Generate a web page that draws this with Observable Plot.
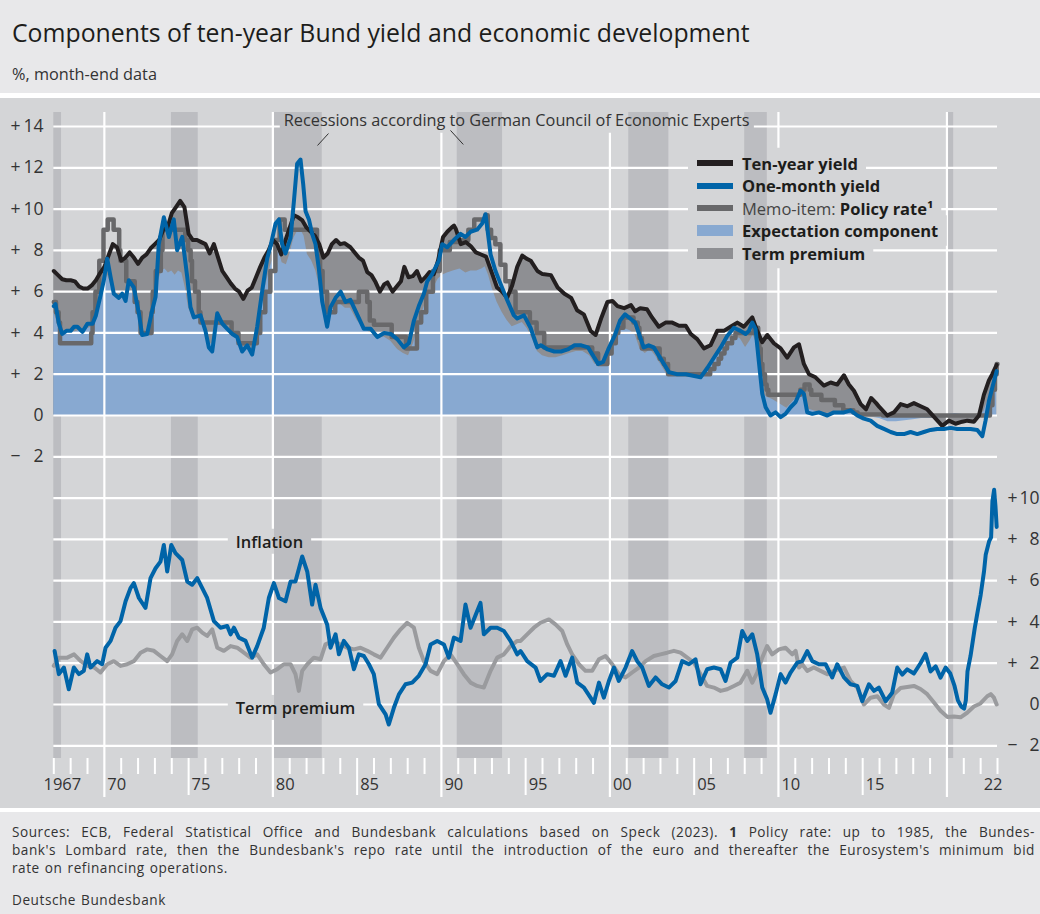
<!DOCTYPE html>
<html>
<head>
<meta charset="utf-8">
<script src="https://cdn.jsdelivr.net/npm/d3@7"></script>
<script src="https://cdn.jsdelivr.net/npm/@observablehq/plot@0.6"></script>
<style>
  body { margin: 0; background: #ffffff; font-family: 'Open Sans', sans-serif; }
  #page { width: 1040px; }
  #header { height: 93px; background: #e8e8ea; position: relative; }
  #title { position: absolute; left: 12px; top: 15px; font-size: 24.8px; color: #1d1d1b; white-space: nowrap; }
  #subtitle { position: absolute; left: 12px; top: 63px; font-size: 16.3px; color: #333; white-space: nowrap; }
  #gap1 { height: 5px; }
  #chart { position: relative; height: 710px; background: #d4d5d7; }
  #chart svg { display: block; }
  #gap2 { height: 4px; }
  #footer { background: #e8e8ea; height: 102px; box-sizing: border-box; padding: 11px 5px 0 12px; font-size: 13.6px; letter-spacing: 0.55px; word-spacing: 1px; line-height: 18px; color: #333; }
  #footer .j { text-align: justify; text-align-last: justify; width: 1023px; }
  #footer .org { margin-top: 14px; }
  #legend { position: absolute; left: 697px; top: 53.75px; }
  #legend .row { display: flex; align-items: center; height: 22.5px; white-space: nowrap; }
  #legend .sw { width: 36px; flex: none; }
  #legend .tx { margin-left: 9px; font-size: 16.5px; color: #1d1d1b; }
</style>
</head>
<body>
<div id="page">
  <div id="header">
    <div id="title">Components of ten-year Bund yield and economic development</div>
    <div id="subtitle">%, month-end data</div>
  </div>
  <div id="gap1"></div>
  <div id="chart"></div>
  <div id="gap2"></div>
  <div id="footer">
    <div class="j">Sources: ECB, Federal Statistical Office and Bundesbank calculations based on Speck (2023). <b>1</b> Policy rate: up to 1985, the Bundes-</div>
    <div class="j">bank's Lombard rate, then the Bundesbank's repo rate until the introduction of the euro and thereafter the Eurosystem's minimum bid</div>
    <div>rate on refinancing operations.</div>
    <div class="org">Deutsche Bundesbank</div>
  </div>
</div>
<script>
// ---------------- DATA ----------------
const tenYear = [[1967.0,7.0],[1967.25,6.8],[1967.5,6.6],[1967.75,6.55],[1968.0,6.55],[1968.25,6.5],[1968.5,6.25],[1968.75,6.15],[1969.0,6.15],[1969.25,6.3],[1969.5,6.55],[1969.75,6.9],[1970.0,7.2],[1970.25,7.75],[1970.5,8.3],[1970.75,8.15],[1971.0,7.5],[1971.25,7.65],[1971.5,7.9],[1971.75,7.65],[1972.0,7.35],[1972.25,7.65],[1972.5,7.8],[1972.75,8.1],[1973.0,8.3],[1973.25,8.5],[1973.5,9.0],[1973.75,9.1],[1974.0,9.8],[1974.25,10.1],[1974.5,10.4],[1974.75,10.1],[1975.0,8.8],[1975.25,8.5],[1975.5,8.5],[1975.75,8.4],[1976.0,8.3],[1976.25,7.85],[1976.5,8.3],[1976.75,7.65],[1977.0,7.0],[1977.25,6.7],[1977.5,6.4],[1977.75,6.15],[1978.0,6.0],[1978.25,5.65],[1978.5,6.05],[1978.75,6.2],[1979.0,6.7],[1979.25,7.2],[1979.5,7.65],[1979.75,8.0],[1980.0,8.5],[1980.25,8.3],[1980.5,7.8],[1980.75,8.5],[1981.0,9.1],[1981.25,9.7],[1981.5,9.6],[1981.75,9.45],[1982.0,9.1],[1982.25,8.9],[1982.5,8.7],[1982.75,8.3],[1983.0,7.65],[1983.25,7.85],[1983.5,8.3],[1983.75,8.5],[1984.0,8.3],[1984.25,8.35],[1984.6,8.15],[1985.1,7.65],[1985.35,7.5],[1985.6,6.95],[1985.85,6.8],[1986.1,6.45],[1986.35,6.0],[1986.6,6.35],[1986.8,6.45],[1987.1,6.0],[1987.3,6.2],[1987.6,6.5],[1987.8,7.2],[1988.05,6.7],[1988.3,6.75],[1988.55,7.0],[1988.8,6.5],[1989.05,6.7],[1989.3,6.95],[1989.55,6.85],[1989.8,7.5],[1990.1,8.65],[1990.35,8.9],[1990.6,9.1],[1990.75,9.2],[1990.85,9.05],[1991.15,8.3],[1991.45,8.4],[1991.75,8.2],[1992.05,7.9],[1992.35,7.8],[1992.65,7.7],[1993.0,6.9],[1993.3,6.2],[1993.6,6.0],[1993.9,5.7],[1994.2,6.3],[1994.5,7.2],[1994.8,7.75],[1995.05,7.6],[1995.3,7.5],[1995.7,7.0],[1996.0,6.85],[1996.5,6.8],[1996.9,6.2],[1997.3,5.9],[1997.7,5.7],[1998.05,5.1],[1998.45,4.9],[1998.85,4.1],[1999.15,3.9],[1999.5,4.75],[1999.85,5.5],[2000.15,5.55],[2000.45,5.3],[2000.85,5.2],[2001.25,5.35],[2001.5,5.05],[2001.8,5.2],[2002.2,5.15],[2002.5,4.75],[2002.9,4.3],[2003.3,4.5],[2003.7,4.5],[2004.1,4.35],[2004.5,4.35],[2004.8,3.95],[2005.18,3.7],[2005.58,3.25],[2005.97,3.4],[2006.37,4.1],[2006.76,4.1],[2007.16,4.3],[2007.56,4.5],[2007.95,4.3],[2008.45,4.75],[2008.74,4.1],[2009.04,3.55],[2009.34,3.9],[2009.73,3.5],[2010.13,3.25],[2010.52,2.8],[2010.92,3.3],[2011.22,3.45],[2011.51,2.5],[2011.81,2.0],[2012.2,1.85],[2012.7,1.45],[2013.1,1.6],[2013.49,1.5],[2013.89,1.95],[2014.18,1.5],[2014.48,1.2],[2014.88,0.55],[2015.2,0.3],[2015.5,0.85],[2015.8,0.6],[2016.0,0.4],[2016.46,0.0],[2016.85,0.15],[2017.25,0.55],[2017.64,0.45],[2018.04,0.6],[2018.44,0.45],[2018.83,0.3],[2019.33,-0.15],[2019.72,-0.5],[2020.12,-0.25],[2020.51,-0.4],[2020.91,-0.3],[2021.21,-0.25],[2021.6,-0.3],[2021.9,0.0],[2022.19,1.0],[2022.49,1.7],[2022.69,2.0],[2022.95,2.45]];

const oneMonth = [[1967.0,5.3],[1967.1,5.4],[1967.3,4.45],[1967.5,3.95],[1967.75,4.1],[1968.0,4.1],[1968.2,4.3],[1968.4,4.3],[1968.7,4.05],[1969.0,4.45],[1969.3,4.45],[1969.5,4.85],[1969.77,5.8],[1969.97,6.55],[1970.17,7.6],[1970.37,6.7],[1970.56,5.9],[1970.86,5.7],[1971.06,5.9],[1971.26,5.55],[1971.45,6.55],[1971.75,6.2],[1972.05,4.95],[1972.24,3.9],[1972.54,3.95],[1972.84,5.1],[1973.04,5.75],[1973.23,8.3],[1973.53,9.6],[1973.83,8.65],[1974.12,9.5],[1974.32,8.0],[1974.62,8.65],[1974.92,6.7],[1975.11,5.25],[1975.31,4.75],[1975.71,4.85],[1976.0,4.1],[1976.2,3.3],[1976.4,3.1],[1976.7,4.95],[1977.0,4.45],[1977.29,4.2],[1977.59,3.95],[1977.88,3.8],[1978.18,3.1],[1978.48,3.4],[1978.77,2.95],[1979.07,4.3],[1979.37,6.05],[1979.66,7.6],[1979.86,8.2],[1980.16,9.3],[1980.36,9.5],[1980.55,8.3],[1980.75,7.85],[1981.05,8.6],[1981.25,10.4],[1981.44,12.2],[1981.64,12.4],[1981.8,11.2],[1981.94,9.9],[1982.14,9.5],[1982.33,8.8],[1982.53,8.3],[1982.73,7.1],[1982.93,5.5],[1983.22,4.3],[1983.42,5.25],[1983.72,5.7],[1984.02,6.0],[1984.31,5.5],[1984.6,5.6],[1985.0,4.9],[1985.4,4.2],[1985.8,4.2],[1986.2,3.8],[1986.6,4.0],[1987.0,3.95],[1987.38,3.7],[1987.77,3.3],[1988.07,3.5],[1988.37,4.6],[1988.66,5.3],[1988.96,5.9],[1989.16,6.5],[1989.45,6.85],[1989.85,7.5],[1990.05,8.3],[1990.34,8.15],[1990.74,8.5],[1991.14,8.8],[1991.43,8.65],[1991.73,8.9],[1992.12,9.0],[1992.42,9.3],[1992.62,9.75],[1992.72,9.1],[1992.92,7.8],[1993.21,7.0],[1993.5,6.4],[1993.9,5.6],[1994.3,4.85],[1994.5,4.7],[1994.9,4.85],[1995.29,4.25],[1995.69,3.3],[1995.9,3.4],[1996.3,3.2],[1996.7,3.1],[1997.1,3.1],[1997.5,3.2],[1997.9,3.4],[1998.3,3.4],[1998.7,3.3],[1999.0,2.9],[1999.3,2.5],[1999.6,2.6],[1999.9,3.2],[2000.3,3.9],[2000.6,4.6],[2000.9,4.9],[2001.2,4.7],[2001.5,4.5],[2001.75,3.9],[2002.0,3.3],[2002.3,3.4],[2002.6,3.3],[2002.9,2.9],[2003.2,2.5],[2003.5,2.1],[2004.0,2.0],[2004.5,2.0],[2004.79,1.95],[2005.38,1.85],[2005.78,2.3],[2006.17,2.8],[2006.57,3.3],[2006.96,3.85],[2007.36,4.25],[2007.75,4.1],[2008.05,3.95],[2008.25,4.1],[2008.45,4.5],[2008.64,4.2],[2008.84,2.6],[2009.04,1.05],[2009.24,0.4],[2009.53,0.0],[2009.83,0.15],[2010.13,-0.08],[2010.42,0.08],[2010.72,0.4],[2011.02,0.65],[2011.31,1.2],[2011.51,1.05],[2011.71,0.15],[2012.01,0.08],[2012.4,0.15],[2012.9,0.0],[2013.29,0.15],[2013.89,0.15],[2014.28,0.25],[2014.68,0.0],[2015.07,-0.15],[2015.47,-0.25],[2015.86,-0.5],[2016.26,-0.65],[2016.66,-0.8],[2017.05,-0.9],[2017.45,-0.9],[2017.84,-0.8],[2018.24,-0.9],[2018.63,-0.8],[2019.03,-0.7],[2019.42,-0.65],[2019.82,-0.65],[2020.22,-0.6],[2020.61,-0.65],[2021.01,-0.65],[2021.4,-0.65],[2021.8,-0.7],[2022.1,-1.0],[2022.29,-0.25],[2022.49,0.7],[2022.69,1.35],[2022.95,2.15]];

const policyRate = [[1967.0,5.5],[1967.13,5.0],[1967.29,4.5],[1967.37,3.5],[1969.22,4.0],[1969.3,5.0],[1969.47,6.0],[1969.7,7.5],[1969.95,9.0],[1970.2,9.5],[1970.55,9.0],[1970.88,8.0],[1970.95,7.5],[1971.3,6.5],[1971.8,5.5],[1971.97,5.0],[1972.15,4.0],[1972.8,5.0],[1972.87,6.0],[1973.05,7.0],[1973.35,8.0],[1973.45,9.0],[1974.8,8.5],[1974.97,8.0],[1975.12,7.5],[1975.2,6.5],[1975.38,6.0],[1975.6,5.0],[1975.7,4.5],[1977.55,4.0],[1977.96,3.5],[1979.05,4.0],[1979.25,5.0],[1979.55,6.0],[1979.85,7.0],[1980.15,8.5],[1980.4,9.5],[1980.7,9.0],[1982.62,8.0],[1982.8,7.0],[1982.95,6.0],[1983.22,5.0],[1983.7,5.5],[1985.1,6.0],[1985.6,5.5],[1985.75,4.6],[1986.0,4.4],[1987.05,3.8],[1987.9,3.25],[1988.55,4.5],[1988.8,5.0],[1989.1,6.0],[1989.5,7.0],[1989.9,8.0],[1990.5,8.4],[1991.1,8.5],[1991.6,9.0],[1991.95,9.5],[1992.6,9.7],[1992.75,9.0],[1992.95,8.6],[1993.2,8.3],[1993.5,7.3],[1993.8,6.5],[1994.1,6.0],[1994.4,5.0],[1995.25,4.5],[1995.65,4.0],[1996.1,3.3],[1998.95,3.0],[1999.3,2.5],[1999.85,3.0],[2000.1,3.5],[2000.35,4.0],[2000.5,4.25],[2000.8,4.75],[2001.4,4.5],[2001.65,4.25],[2001.75,3.75],[2001.9,3.25],[2002.95,2.75],[2003.2,2.5],[2003.45,2.0],[2005.95,2.25],[2006.2,2.5],[2006.45,2.75],[2006.6,3.0],[2006.8,3.25],[2006.95,3.5],[2007.25,3.75],[2007.45,4.0],[2008.55,4.25],[2008.8,3.75],[2008.87,3.25],[2008.95,2.5],[2009.05,2.0],[2009.2,1.5],[2009.3,1.25],[2009.4,1.0],[2011.3,1.25],[2011.55,1.5],[2011.85,1.25],[2011.95,1.0],[2012.55,0.75],[2013.35,0.5],[2013.85,0.25],[2014.45,0.15],[2014.7,0.05],[2016.2,0.0],[2022.55,0.5],[2022.7,1.25],[2022.85,2.0],[2022.95,2.5],[2023.0,2.5]];

const expectation = [[1967.0,5.0],[1967.25,4.4],[1967.5,4.0],[1968.0,4.0],[1968.5,4.1],[1969.0,4.2],[1969.25,4.3],[1969.5,4.8],[1969.75,5.7],[1970.0,6.4],[1970.2,6.8],[1970.4,6.3],[1970.6,5.8],[1970.9,5.6],[1971.1,5.7],[1971.3,5.5],[1971.5,6.0],[1971.75,5.9],[1972.0,4.8],[1972.25,4.0],[1972.5,4.1],[1972.75,4.9],[1973.0,5.6],[1973.2,6.5],[1973.4,7.0],[1973.6,7.1],[1973.8,6.9],[1974.0,7.0],[1974.2,6.8],[1974.4,7.0],[1974.6,6.9],[1974.8,6.2],[1975.0,5.2],[1975.25,4.7],[1975.5,4.8],[1975.75,4.7],[1976.0,4.2],[1976.2,3.6],[1976.4,3.4],[1976.6,4.3],[1976.8,4.4],[1977.0,4.3],[1977.3,4.1],[1977.6,3.9],[1977.9,3.7],[1978.2,3.3],[1978.5,3.4],[1978.8,3.1],[1979.0,3.8],[1979.3,5.0],[1979.6,6.4],[1979.85,7.2],[1980.1,7.8],[1980.35,8.0],[1980.55,7.4],[1980.8,7.3],[1981.0,7.8],[1981.25,8.6],[1981.45,8.9],[1981.65,9.0],[1981.85,8.7],[1982.05,7.8],[1982.3,7.5],[1982.55,7.0],[1982.75,6.3],[1983.0,5.3],[1983.25,4.6],[1983.45,5.0],[1983.75,5.3],[1984.0,5.4],[1984.3,5.2],[1984.6,5.2],[1985.0,4.6],[1985.4,4.2],[1985.8,4.0],[1986.2,3.7],[1986.6,3.8],[1987.0,3.6],[1987.4,3.2],[1987.75,3.0],[1988.05,2.9],[1988.35,3.5],[1988.65,4.4],[1988.95,5.2],[1989.2,5.8],[1989.5,6.1],[1989.8,6.6],[1990.05,6.8],[1990.35,6.9],[1990.7,7.0],[1991.1,7.1],[1991.45,6.9],[1991.75,7.0],[1992.1,7.0],[1992.4,7.1],[1992.6,7.2],[1992.8,6.8],[1993.0,6.2],[1993.3,5.5],[1993.6,5.0],[1993.9,4.6],[1994.2,4.3],[1994.5,4.4],[1994.8,4.5],[1995.1,4.2],[1995.4,3.7],[1995.7,3.1],[1996.0,2.9],[1996.4,2.8],[1996.8,2.8],[1997.2,2.9],[1997.6,3.0],[1998.0,3.1],[1998.4,3.1],[1998.8,2.9],[1999.1,2.5],[1999.4,2.4],[1999.7,2.7],[2000.0,3.2],[2000.3,3.8],[2000.6,4.2],[2000.9,4.2],[2001.2,4.1],[2001.5,3.9],[2001.8,3.2],[2002.1,3.0],[2002.4,3.2],[2002.7,2.9],[2003.0,2.5],[2003.3,2.1],[2003.6,1.9],[2004.0,1.9],[2004.5,1.9],[2004.8,1.85],[2005.2,1.8],[2005.6,2.0],[2005.9,2.3],[2006.2,2.7],[2006.6,3.1],[2006.95,3.6],[2007.35,3.9],[2007.75,3.7],[2008.05,3.3],[2008.3,3.6],[2008.5,3.9],[2008.65,3.6],[2008.85,2.2],[2009.05,1.1],[2009.3,0.9],[2009.6,0.8],[2010.0,0.6],[2010.5,0.35],[2010.9,0.7],[2011.3,1.0],[2011.55,0.9],[2011.8,0.3],[2012.2,0.2],[2012.8,0.1],[2013.5,0.15],[2014.2,0.2],[2014.8,0.05],[2015.3,-0.05],[2016.0,-0.15],[2016.5,-0.3],[2017.0,-0.3],[2017.5,-0.25],[2018.0,-0.2],[2018.5,-0.15],[2019.0,-0.15],[2019.5,-0.15],[2020.0,0.05],[2020.5,0.1],[2021.0,0.05],[2021.5,-0.1],[2021.9,-0.1],[2022.2,0.2],[2022.5,0.9],[2022.7,1.5],[2022.95,2.2]];

const termPremium = [[1967.0,1.87],[1967.3,2.27],[1967.8,2.27],[1968.2,2.43],[1968.6,2.1],[1969.0,1.87],[1969.4,1.79],[1969.77,1.55],[1970.17,1.95],[1970.56,2.1],[1970.96,1.87],[1971.35,1.95],[1971.75,2.1],[1972.15,2.51],[1972.54,2.67],[1972.94,2.6],[1973.33,2.35],[1973.73,2.1],[1974.02,2.43],[1974.32,3.08],[1974.62,3.4],[1974.92,3.08],[1975.21,3.64],[1975.51,3.72],[1975.81,3.48],[1976.1,3.32],[1976.4,3.64],[1976.7,2.75],[1977.09,2.6],[1977.49,2.83],[1977.88,2.75],[1978.28,2.51],[1978.67,2.27],[1979.07,2.43],[1979.46,1.95],[1979.86,1.55],[1980.26,1.71],[1980.65,1.95],[1981.05,1.95],[1981.34,1.47],[1981.54,0.66],[1981.74,1.63],[1982.04,1.95],[1982.43,2.27],[1982.83,2.19],[1983.12,2.91],[1983.62,3.08],[1984.01,2.91],[1984.41,2.75],[1984.81,2.67],[1985.2,2.75],[1985.6,2.6],[1985.99,2.43],[1986.39,2.27],[1986.78,2.75],[1987.18,3.24],[1987.58,3.64],[1987.97,3.96],[1988.37,3.72],[1988.66,2.75],[1988.96,2.1],[1989.36,1.63],[1989.75,1.47],[1990.15,2.1],[1990.54,2.43],[1990.94,1.95],[1991.33,1.47],[1991.73,1.06],[1992.12,0.9],[1992.52,0.82],[1992.92,1.63],[1993.31,2.27],[1993.71,2.43],[1994.1,2.83],[1994.5,3.08],[1994.7,3.08],[1995.09,3.4],[1995.49,3.72],[1995.88,3.96],[1996.38,4.12],[1996.77,3.88],[1997.17,3.56],[1997.47,2.91],[1997.76,2.43],[1998.16,1.95],[1998.55,1.63],[1998.95,1.63],[1999.35,2.19],[1999.74,2.35],[2000.14,1.95],[2000.53,1.47],[2000.93,1.31],[2001.32,1.55],[2001.72,1.79],[2002.12,2.1],[2002.61,2.35],[2003.0,2.43],[2003.4,2.51],[2003.8,2.6],[2004.19,2.51],[2004.59,2.27],[2004.98,2.03],[2005.38,1.47],[2005.77,0.9],[2006.17,0.82],[2006.57,0.66],[2006.96,0.74],[2007.36,0.9],[2007.75,1.06],[2008.15,1.63],[2008.45,1.06],[2008.74,1.55],[2009.04,2.27],[2009.33,2.83],[2009.63,2.43],[2010.03,2.67],[2010.42,2.75],[2010.82,2.43],[2011.02,2.6],[2011.22,1.79],[2011.41,1.95],[2011.71,1.63],[2012.1,1.79],[2012.5,1.63],[2012.9,1.47],[2013.29,1.63],[2013.89,1.79],[2014.28,1.14],[2014.68,0.82],[2015.07,0.0],[2015.47,0.33],[2015.87,0.4],[2016.26,0.0],[2016.56,-0.16],[2016.85,0.49],[2017.25,0.8],[2017.64,0.85],[2018.04,0.9],[2018.43,0.75],[2018.83,0.5],[2019.23,0.1],[2019.62,-0.3],[2020.02,-0.6],[2020.41,-0.58],[2020.81,-0.62],[2021.2,-0.4],[2021.6,-0.1],[2021.99,0.05],[2022.39,0.4],[2022.6,0.5],[2022.79,0.33],[2022.95,0.0]];

const inflation = [[1967.05,2.59],[1967.3,1.47],[1967.6,1.79],[1967.89,0.74],[1968.19,1.79],[1968.49,1.47],[1968.78,1.63],[1968.98,2.43],[1969.18,1.79],[1969.57,2.1],[1969.87,1.95],[1970.07,2.75],[1970.37,3.08],[1970.66,3.72],[1970.96,4.04],[1971.26,5.0],[1971.55,5.64],[1971.75,5.88],[1972.05,5.16],[1972.44,4.68],[1972.74,6.12],[1973.04,6.6],[1973.33,6.92],[1973.53,7.73],[1973.73,6.44],[1973.97,7.73],[1974.22,7.33],[1974.62,7.0],[1974.92,5.96],[1975.21,5.8],[1975.51,6.12],[1975.81,5.64],[1976.1,5.16],[1976.5,4.04],[1976.89,3.72],[1977.29,3.8],[1977.49,3.4],[1977.69,3.72],[1977.98,3.24],[1978.38,3.08],[1978.77,2.27],[1979.07,2.83],[1979.46,3.72],[1979.76,5.16],[1980.06,5.88],[1980.36,5.16],[1980.75,5.0],[1981.05,5.96],[1981.34,5.96],[1981.74,7.17],[1982.04,6.44],[1982.33,4.84],[1982.53,5.8],[1982.83,4.68],[1983.22,3.88],[1983.42,2.75],[1983.72,3.4],[1983.92,2.43],[1984.21,3.08],[1984.51,2.75],[1984.81,1.71],[1985.1,2.43],[1985.4,2.35],[1985.7,1.95],[1985.99,1.47],[1986.29,0.02],[1986.69,-0.48],[1986.88,-0.97],[1987.18,-0.16],[1987.48,0.49],[1987.87,0.98],[1988.27,1.06],[1988.66,1.39],[1989.06,1.95],[1989.36,2.91],[1989.75,3.08],[1990.15,2.91],[1990.44,2.27],[1990.74,3.24],[1991.14,3.08],[1991.43,4.84],[1991.73,3.72],[1992.12,4.52],[1992.32,4.92],[1992.52,3.4],[1992.92,3.72],[1993.31,3.72],[1993.71,3.56],[1994.1,3.08],[1994.5,2.43],[1994.7,2.59],[1995.09,2.1],[1995.59,1.79],[1995.88,1.14],[1996.28,1.47],[1996.68,1.39],[1997.07,2.1],[1997.37,1.39],[1997.76,2.27],[1998.06,1.06],[1998.46,0.82],[1998.85,0.33],[1999.05,0.08],[1999.35,1.06],[1999.64,0.33],[1999.94,1.14],[2000.24,1.79],[2000.53,1.14],[2000.93,1.79],[2001.32,2.59],[2001.62,2.1],[2001.92,1.79],[2002.31,0.9],[2002.71,1.31],[2003.1,0.98],[2003.5,0.82],[2003.9,1.14],[2004.29,2.1],[2004.69,1.95],[2005.08,2.19],[2005.38,0.98],[2005.77,1.71],[2006.17,1.79],[2006.57,1.71],[2006.86,1.14],[2007.16,2.03],[2007.56,2.27],[2007.85,3.56],[2008.15,3.08],[2008.45,3.4],[2008.74,2.43],[2009.04,0.82],[2009.33,0.25],[2009.53,-0.4],[2009.83,0.49],[2010.13,1.47],[2010.42,1.06],[2010.72,1.55],[2011.12,2.03],[2011.41,2.1],[2011.71,2.59],[2012.01,2.1],[2012.4,1.95],[2012.8,1.95],[2013.19,1.31],[2013.49,1.95],[2013.89,1.31],[2014.28,0.98],[2014.68,0.9],[2014.97,0.16],[2015.37,0.98],[2015.67,0.66],[2015.96,0.82],[2016.36,0.16],[2016.75,0.57],[2017.05,1.79],[2017.35,1.45],[2017.64,1.7],[2018.04,1.5],[2018.43,2.0],[2018.73,2.45],[2019.03,1.6],[2019.33,1.85],[2019.62,1.3],[2019.92,1.79],[2020.2,1.5],[2020.45,0.9],[2020.65,0.2],[2020.85,-0.1],[2021.02,-0.2],[2021.12,0.2],[2021.22,1.6],[2021.4,2.35],[2021.65,3.7],[2021.8,4.4],[2022.0,5.3],[2022.2,6.45],[2022.3,7.25],[2022.5,7.9],[2022.62,8.1],[2022.7,9.85],[2022.8,10.4],[2022.88,9.6],[2022.95,8.6]];

const recessions = [[1967.0,1967.46],[1973.98,1975.57],[1980.1,1982.93],[1990.94,1993.63],[2001.12,2003.5],[2008.0,2009.34],[2020.08,2020.4]];

const topTicks = [-2, 0, 2, 4, 6, 8, 10, 12, 14];
const bottomTicks = [-2, 0, 2, 4, 6, 8, 10];
const decadeYears = [1970, 1980, 1990, 2000, 2010, 2020];
const halfDecadeYears = [1975, 1985, 1995, 2005, 2015];
const allYears = d3.range(1967, 2024);
const minorYears = allYears.filter(y => y % 5 !== 0);
const firstYearLabel = [[1967, "1967"]];
const yearLabels = [[1970,"70"],[1975,"75"],[1980,"80"],[1985,"85"],[1990,"90"],[1995,"95"],[2000,"00"],[2005,"05"],[2010,"10"],[2015,"15"],[2022,"22"]];

const recessionNote = [{x: 1994.47, y: 14.29, text: "Recessions according to German Council of Economic Experts"}];
const recessionLeaders = [{x1: 1983.3, y1: 13.66, x2: 1982.65, y2: 13.08}, {x1: 1990.54, y1: 13.81, x2: 1991.3, y2: 13.13}];
const panelLabels = [{x: 1977.8, y: 7.85, text: "Inflation"}, {x: 1977.8, y: -0.2, text: "Term premium"}];

const legendRows = [
  {kind: "line", color: "#231f20", parts: [["Ten-year yield", 700, "#1d1d1b"]]},
  {kind: "line", color: "#0064a8", parts: [["One-month yield", 700, "#1d1d1b"]]},
  {kind: "line", color: "#68686a", parts: [["Memo-item: ", 400, "#444"], ["Policy rate¹", 700, "#1d1d1b"]]},
  {kind: "area", color: "#88a9d1", parts: [["Expectation component", 700, "#1d1d1b"]]},
  {kind: "area", color: "#8e8f93", parts: [["Term premium", 700, "#1d1d1b"]]}
];

// ---------------- LAYOUT ----------------
const W = 1040, H = 710;
const PANEL_TOP = 98;                 // page y of svg top
const PX_PER_UNIT = (415 - 126) / 14; // px per percentage point
const FRAME_TOP = 112, FRAME_BOTTOM = 758;
const Y_MAX = 14 + (126 - FRAME_TOP) / PX_PER_UNIT;
const Y_MIN = -(FRAME_BOTTOM - 415) / PX_PER_UNIT;
const FRAME_H = FRAME_BOTTOM - FRAME_TOP;
const OFF = -14; // bottom panel shares the y scale, shifted by 14 points
const absLabel = d => String(Math.abs(d));
const signLabel = d => d > 0 ? "+" : "\u2212";
const X = d => d[0], Yv = d => d[1], Yb = d => d[1] + OFF;
const yTickFont = {fontSize: 17.5, fill: "#333"};
const xTickFont = {fontSize: 16.5, fill: "#333"};

const svg = Plot.plot({
  width: W, height: H,
  marginLeft: 53.3, marginRight: 43, marginTop: FRAME_TOP - PANEL_TOP, marginBottom: PANEL_TOP + H - FRAME_BOTTOM,
  x: {domain: [1967, 2023], axis: null},
  y: {domain: [Y_MIN, Y_MAX], axis: null},
  style: {background: "#d4d5d7", fontFamily: "'Open Sans', sans-serif", fontSize: "16px", overflow: "visible"},
  marks: [
    Plot.rect(recessions, {x1: d => d[0], x2: d => d[1], fill: "#bcbdc1"}),
    Plot.areaY(tenYear, {x: X, y1: 0, y2: Yv, fill: "#8e8f93"}),
    Plot.areaY(expectation, {x: X, y1: 0, y2: Yv, fill: "#88a9d1"}),
    Plot.ruleY(topTicks, {stroke: "#fff", strokeWidth: 2.2}),
    Plot.ruleY(bottomTicks, {y: d => d + OFF, stroke: "#fff", strokeWidth: 2.2}),
    Plot.ruleX(decadeYears, {stroke: "#fff", strokeWidth: 2.2, insetBottom: -39}),
    Plot.ruleX(halfDecadeYears, {stroke: "#fff", strokeWidth: 2, insetTop: FRAME_H, insetBottom: -37}),
    Plot.ruleX(minorYears, {stroke: "#fff", strokeWidth: 2, insetTop: FRAME_H, insetBottom: -16}),
    Plot.line(policyRate, {x: X, y: Yv, curve: "step-after", stroke: "#68686a", strokeWidth: 4.5}),
    Plot.line(tenYear, {x: X, y: Yv, stroke: "#231f20", strokeWidth: 4}),
    Plot.line(oneMonth, {x: X, y: Yv, stroke: "#0064a8", strokeWidth: 4}),
    Plot.line(termPremium, {x: X, y: Yb, stroke: "#9a9b9e", strokeWidth: 4}),
    Plot.line(inflation, {x: X, y: Yb, stroke: "#0064a8", strokeWidth: 4}),
    Plot.link(recessionLeaders, {x1: "x1", y1: "y1", x2: "x2", y2: "y2", stroke: "#333", strokeWidth: 1}),
    Plot.text(recessionNote, {x: "x", y: "y", text: "text", fontSize: 16.3, fill: "#333"}),
    Plot.text(panelLabels, {x: "x", y: d => d.y + OFF, text: "text", textAnchor: "start", fontSize: 16.5, fontWeight: 600, fill: "#1d1d1b"}),
    // left axis (top panel)
    Plot.text(topTicks, {y: d => d, text: absLabel, frameAnchor: "left", textAnchor: "end", dx: -10.3, ...yTickFont}),
    Plot.text(topTicks.filter(d => d !== 0), {y: d => d, text: signLabel, frameAnchor: "left", textAnchor: "start", dx: -43.3, ...yTickFont}),
    // right axis (bottom panel)
    Plot.text(bottomTicks, {y: d => d + OFF, text: absLabel, frameAnchor: "right", textAnchor: "end", dx: 42, ...yTickFont}),
    Plot.text(bottomTicks.filter(d => d !== 0), {y: d => d + OFF, text: signLabel, frameAnchor: "right", textAnchor: "start", dx: 10, ...yTickFont}),
    // x labels
    Plot.text(firstYearLabel, {x: X, text: d => d[1], frameAnchor: "bottom", textAnchor: "start", dx: -10.3, dy: 31.5, ...xTickFont}),
    Plot.text(yearLabels, {x: X, text: d => d[1], frameAnchor: "bottom", textAnchor: "start", dx: 3, dy: 31.5, ...xTickFont})
  ]
});

const chart = document.getElementById("chart");
chart.append(svg);

// legend (HTML, on top of the plot area)
const legend = document.createElement("div");
legend.id = "legend";
const rowEls = [];
for (const r of legendRows) {
  const row = document.createElement("div");
  row.className = "row";
  const sw = document.createElement("div");
  sw.className = "sw";
  sw.style.background = r.color;
  sw.style.height = r.kind === "line" ? "6px" : "11px";
  row.append(sw);
  const tx = document.createElement("span");
  tx.className = "tx";
  for (const [t, w, c] of r.parts) {
    const s = document.createElement("span");
    s.textContent = t; s.style.fontWeight = w; s.style.color = c;
    tx.append(s);
  }
  row.append(tx);
  legend.append(row);
  rowEls.push([row, tx]);
}
chart.append(legend);

// gaps in the white grid lines behind labels
const NS = "http://www.w3.org/2000/svg";
const sRect = svg.getBoundingClientRect();
const defs = document.createElementNS(NS, "defs");
const mask = document.createElementNS(NS, "mask");
mask.setAttribute("id", "gridGaps");
mask.setAttribute("maskUnits", "userSpaceOnUse");
mask.setAttribute("x", -200); mask.setAttribute("y", -200);
mask.setAttribute("width", 1500); mask.setAttribute("height", 1200);
function addRect(x, y, w, h, fill) {
  const r = document.createElementNS(NS, "rect");
  r.setAttribute("x", x); r.setAttribute("y", y);
  r.setAttribute("width", w); r.setAttribute("height", h);
  r.setAttribute("fill", fill);
  mask.append(r);
}
addRect(-200, -200, 1500, 1200, "white");
const gapPads = new Map([[recessionNote[0].text, [4, 2]], ["Inflation", [8, 1]], ["Term premium", [8, 1]]]);
svg.querySelectorAll("text").forEach(t => {
  const p = gapPads.get(t.textContent);
  if (p) {
    const b = t.getBoundingClientRect();
    addRect(b.left - sRect.left - p[0], b.top - sRect.top - p[1], b.width + 2 * p[0], b.height + 2 * p[1], "black");
  }
});
for (const [row, tx] of rowEls) {
  const rb = row.getBoundingClientRect();
  const tb = tx.getBoundingClientRect();
  addRect(rb.left - sRect.left - 9, rb.top - sRect.top - 4, tb.right - rb.left + 17, rb.height + 8, "black");
}
defs.append(mask);
svg.prepend(defs);
svg.querySelectorAll('g[aria-label="rule"]').forEach(g => g.setAttribute("mask", "url(#gridGaps)"));
</script>
</body>
</html>
